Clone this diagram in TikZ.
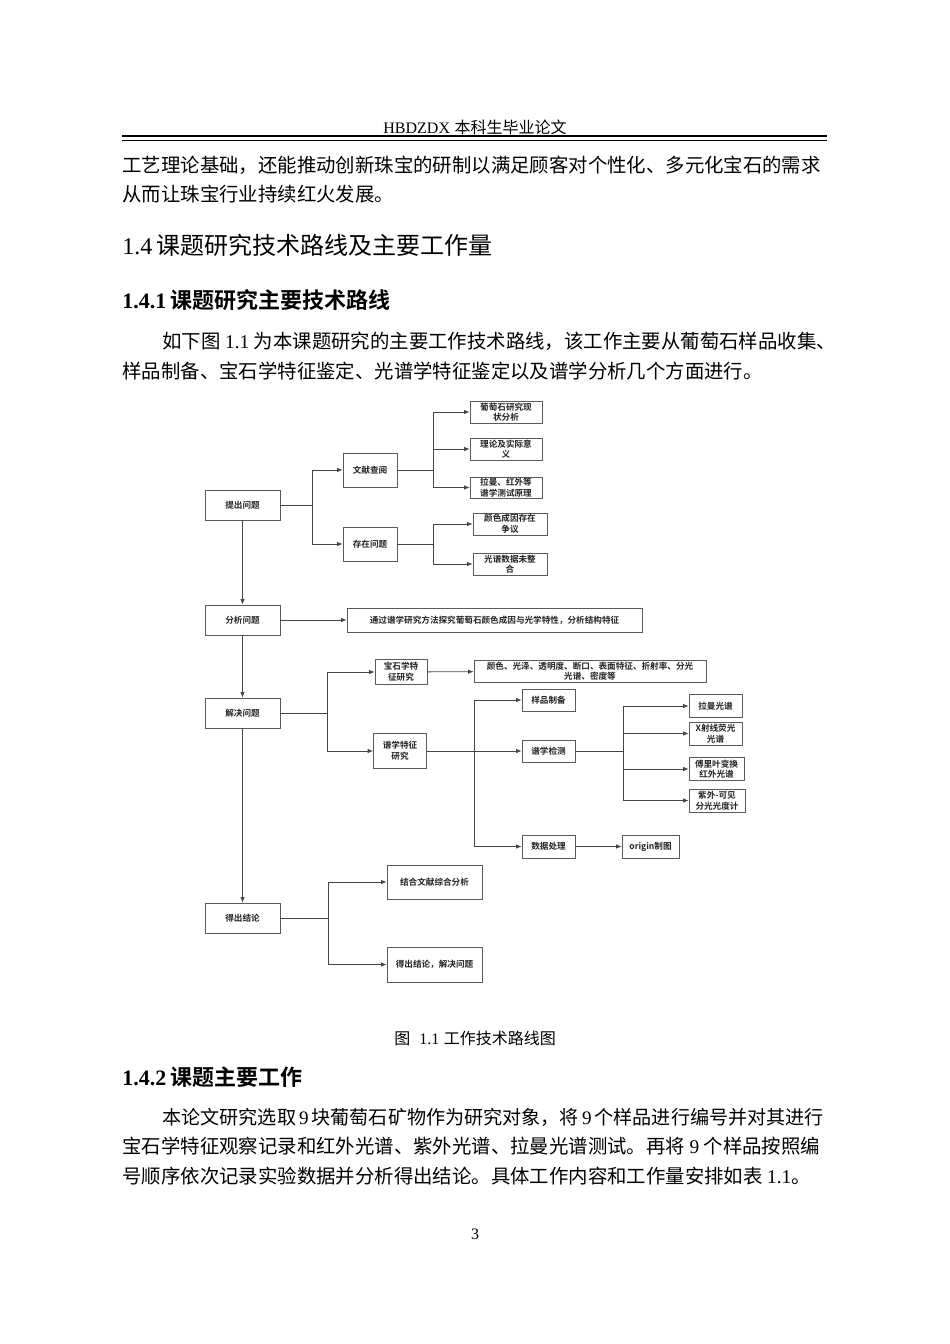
\documentclass[tikz,border=0pt]{standalone}
\usepackage{fontspec}
\setmainfont{Noto Sans CJK SC}[BoldFont={Noto Sans CJK SC Bold}]
\newfontfamily\tm{Liberation Serif}
\usetikzlibrary{arrows.meta,positioning}
\definecolor{linegray}{HTML}{454545}
\definecolor{boxgray}{HTML}{5A5A5A}
\definecolor{textgray}{HTML}{222222}
\XeTeXlinebreaklocale "zh"
\XeTeXlinebreakskip=0pt plus 4pt minus 0.3pt
\newcommand\latgap{\hspace{4.5pt}}

\begin{document}
\begin{tikzpicture}[x=1pt,y=-1pt,->,>={Latex[length=5.5pt,width=4.5pt]},line width=0.8pt,draw=linegray,
    box/.style 2 args={draw=boxgray,rectangle,align=center,inner sep=0pt,text=textgray,
      minimum width=#1,minimum height=#2,font=\fontsize{8.6}{10.6}\selectfont\bfseries},
    main node/.style={box={75pt}{30pt}},
    body/.style={anchor=west,inner sep=0pt,font=\fontsize{19.4}{24}\selectfont}]
  \path[-,fill=white] (0,0) rectangle (950,1344);

  % page header
  \node[inner sep=0pt,font=\fontsize{16}{18}\selectfont] (hd) at (475,127) {{\tm HBDZDX}\latgap 本科生毕业论文};
  \draw[-,draw=black,line width=2.4pt] (122,136) -- (827,136);
  \draw[-,draw=black,line width=0.9pt] (122,140.5) -- (827,140.5);

  \node[body] (l1) at (122,165) {\makebox[704pt][s]{工艺理论基础，还能推动创新珠宝的研制以满足顾客对个性化、多元化宝石的需求}};
  \node[body] (l2) at (122,194) {从而让珠宝行业持续红火发展。};
  \node[body,font=\fontsize{24}{28}\selectfont] (h14) at (122,245) {{\tm 1.4}\latgap 课题研究技术路线及主要工作量};
  \node[body,font=\fontsize{22}{26}\selectfont\bfseries] (h141) at (122,300) {{\tm 1.4.1}\latgap 课题研究主要技术路线};
  \node[body] (p1a) at (162,341) {\makebox[664pt][s]{如下图\latgap{\tm 1.1}\latgap 为本课题研究的主要工作技术路线，该工作主要从葡萄石样品收集、}};
  \node[body] (p1b) at (122,371) {样品制备、宝石学特征鉴定、光谱学特征鉴定以及谱学分析几个方面进行。};

  % left column
  \node[main node] (tc) at (242.5,505) {提出问题};
  \node[main node] (fx) at (242.5,620) {分析问题};
  \node[main node] (jj) at (242.5,713) {解决问题};
  \node[main node] (dc) at (242.5,918) {得出结论};

  % second column
  \node[box={54pt}{34pt}] (wx) at (370,470) {文献查阅};
  \node[box={54pt}{34pt}] (cz) at (370,544) {存在问题};
  \node[box={295pt}{24pt}] (tg) at (494.5,620) {通过谱学研究方法探究葡萄石颜色成因与光学特性，分析结构特征};
  \node[box={52pt}{25pt}] (bs) at (401,672) {宝石学特\\征研究};
  \node[box={53pt}{35pt}] (pt) at (400,751) {谱学特征\\研究};
  \node[box={95pt}{34pt}] (jh) at (434.5,882) {结合文献综合分析};
  \node[box={95pt}{35pt}] (dj) at (434.5,964.5) {得出结论，解决问题};

  % third column
  \node[box={72pt}{22pt}] (yj) at (506,412) {葡萄石研究现\\状分析};
  \node[box={72pt}{22pt}] (ll) at (506,449) {理论及实际意\\义};
  \node[box={72pt}{21pt}] (lm) at (506,487.5) {拉曼、红外等\\谱学测试原理};
  \node[box={74pt}{22pt}] (ys) at (510,524) {颜色成因存在\\争议};
  \node[box={74pt}{22pt}] (gp) at (510,564) {光谱数据未整\\合};
  \node[box={232pt}{22pt}] (gx) at (590,671) {颜色、光泽、透明度、断口、表面特征、折射率、分光\\光谱、密度等};
  \node[box={53pt}{22pt}] (yp) at (548.5,700) {样品制备};
  \node[box={53pt}{22pt}] (pj) at (548.5,751) {谱学检测};
  \node[box={53pt}{23pt}] (sj) at (548.5,846.5) {数据处理};
  \node[box={57pt}{23pt}] (og) at (650.5,846.5) {origin制图};

  % spectra
  \node[box={53pt}{23pt}] (lmgp) at (715.5,706) {拉曼光谱};
  \node[box={53pt}{23pt}] (xs) at (715.5,733.5) {X射线荧光\\光谱};
  \node[box={55pt}{23pt}] (fl) at (716.5,769) {傅里叶变换\\红外光谱};
  \node[box={56pt}{23pt}] (zw) at (717,800.5) {紫外-可见\\分光光度计};

  % branch points
  \coordinate (b1) at (312,505);
  \coordinate (b2) at (433,470);
  \coordinate (b3) at (433,544);
  \coordinate (b4) at (327,713);
  \coordinate (b5) at (474,751);
  \coordinate (b6) at (623.5,751);
  \coordinate (b7) at (328,918);

  \draw (tc) -- (fx);
  \draw (fx) -- (jj);
  \draw (jj) -- (dc);

  \draw (tc.east) -- (b1) |- (wx.west);
  \draw (b1) |- (cz.west);
  \draw (wx.east) -- (b2) |- (yj.west);
  \draw (b2) |- (ll.west);
  \draw (b2) |- (lm.west);
  \draw (cz.east) -- (b3) |- (ys.west);
  \draw (b3) |- (gp.west);

  \draw (fx) -- (tg);

  \draw (jj.east) -- (b4) |- (bs.west);
  \draw (b4) |- (pt.west);
  \draw (bs) -- (gx);
  \draw (pt.east) -- (b5) |- (yp.west);
  \draw (b5) -- (pj.west);
  \draw (b5) |- (sj.west);
  \draw (sj) -- (og);
  \draw (pj.east) -- (b6) |- (lmgp.west);
  \draw (b6) |- (xs.west);
  \draw (b6) |- (fl.west);
  \draw (b6) |- (zw.west);

  \draw (dc.east) -- (b7) |- (jh.west);
  \draw (b7) |- (dj.west);

  % caption and next section
  \node[inner sep=0pt,font=\fontsize{16}{18}\selectfont] (cap) at (475,1038) {图\hspace{9pt}{\tm 1.1}\latgap 工作技术路线图};
  \node[body,font=\fontsize{22}{26}\selectfont\bfseries] (h142) at (122,1077) {{\tm 1.4.2}\latgap 课题主要工作};
  \node[body,font=\fontsize{19.1}{24}\selectfont] (p2a) at (162,1117) {\makebox[664pt][s]{本论文研究选取\hspace{3pt}{\tm 9}\hspace{3pt}块葡萄石矿物作为研究对象，将\hspace{3pt}{\tm 9}\hspace{3pt}个样品进行编号并对其进行}};
  \node[body] (p2b) at (122,1146) {\makebox[704pt][s]{宝石学特征观察记录和红外光谱、紫外光谱、拉曼光谱测试。再将\latgap{\tm 9}\latgap 个样品按照编}};
  \node[body] (p2c) at (122,1176) {号顺序依次记录实验数据并分析得出结论。具体工作内容和工作量安排如表\latgap{\tm 1.1}。};
  \node[inner sep=0pt,font=\fontsize{16}{18}\selectfont\tm] (pg) at (475,1234) {3};
\end{tikzpicture}
\end{document}
